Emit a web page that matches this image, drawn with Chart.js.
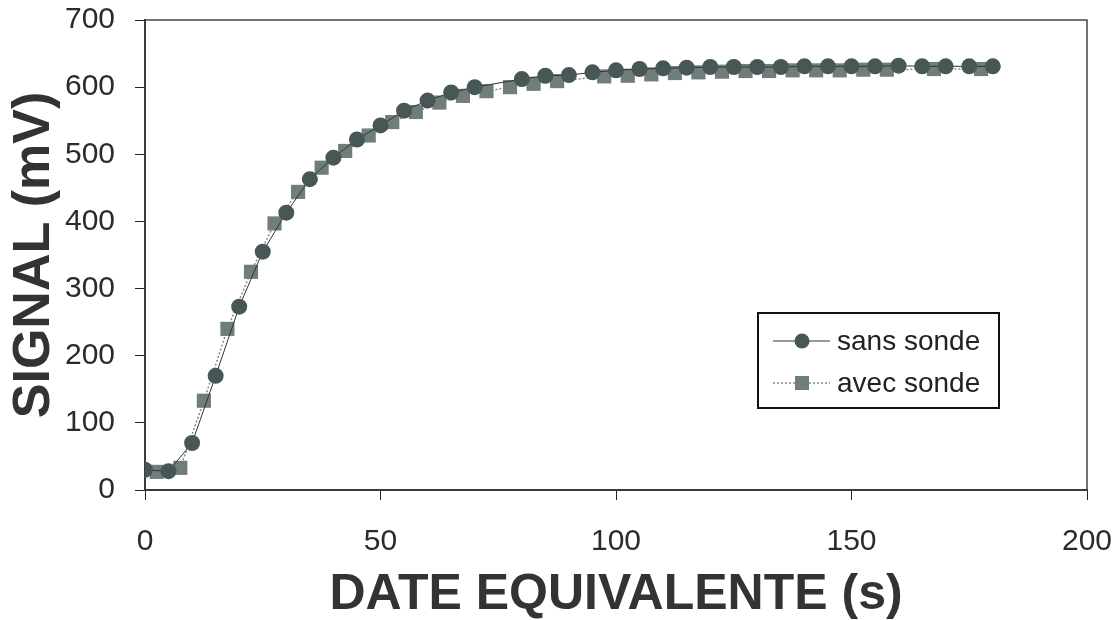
<!DOCTYPE html>
<html>
<head>
<meta charset="utf-8">
<title>Signal vs date equivalente</title>
<script src="https://cdn.jsdelivr.net/npm/chart.js@4.4.1/dist/chart.umd.min.js"></script>
<style>
  html, body { margin: 0; padding: 0; background: #fff; }
  #wrap { width: 1120px; height: 620px; position: relative; }
</style>
</head>
<body>
<div id="wrap"><canvas id="chart" width="1120" height="620"></canvas></div>
<script>
// --- data ---
const sansSondeX = [0, 5, 10, 15, 20, 25, 30, 35, 40, 45, 50, 55, 60, 65, 70,
  80, 85, 90, 95, 100, 105, 110, 115, 120, 125, 130, 135, 140, 145, 150, 155,
  160, 165, 170, 175, 180];
const sansSondeY = [30, 28, 70, 170, 273, 355, 413, 463, 495, 522, 543, 565, 580, 592, 600,
  612, 617, 618, 622, 625, 627, 628, 629, 630, 630, 630, 630, 631, 631, 631, 631,
  632, 631, 631, 631, 631];

const avecSondeX = [2.5, 7.5, 12.5, 17.5, 22.5, 27.5, 32.5, 37.5, 42.5, 47.5, 52.5,
  57.5, 62.5, 67.5, 72.5, 77.5, 82.5, 87.5, 97.5, 102.5, 107.5, 112.5, 117.5,
  122.5, 127.5, 132.5, 137.5, 142.5, 147.5, 152.5, 157.5, 167.5, 177.5];
const avecSondeY = [27, 33, 133, 240, 325, 397, 444, 480, 505, 528, 548,
  563, 577, 587, 594, 600, 605, 609, 616, 617, 619, 621, 622,
  623, 624, 624, 625, 625, 625, 626, 626, 627, 627];

const seriesNames = ['sans sonde', 'avec sonde'];
const xTicks = [0, 50, 100, 150, 200];
const yTicks = [0, 100, 200, 300, 400, 500, 600, 700];
const xTitle = 'DATE EQUIVALENTE (s)';
const yTitle = 'SIGNAL (mV)';

const FONT = '"Liberation Sans", Arial, Helvetica, sans-serif';
const circleColor = '#465755';
const squareColor = '#6f7d7b';

function toPoints(xs, ys) {
  return xs.map((x, i) => ({ x, y: ys[i] }));
}

// frame around the plot area (top & right edges)
const framePlugin = {
  id: 'frame',
  beforeDatasetsDraw(chart) {
    const { ctx, chartArea: a } = chart;
    ctx.save();
    ctx.strokeStyle = '#444';
    ctx.lineWidth = 1.5;
    ctx.strokeRect(a.left, a.top, a.right - a.left, a.bottom - a.top);
    ctx.restore();
  }
};

// boxed legend inside the plot, like the original
const boxLegend = {
  id: 'boxLegend',
  afterDraw(chart) {
    const { ctx } = chart;
    const box = { x: 758, y: 313, w: 241, h: 95 };
    ctx.save();
    ctx.fillStyle = '#fff';
    ctx.fillRect(box.x, box.y, box.w, box.h);
    ctx.strokeStyle = '#111';
    ctx.lineWidth = 2;
    ctx.strokeRect(box.x, box.y, box.w, box.h);

    const rows = [box.y + 28, box.y + 70];
    chart.data.datasets.forEach((ds, i) => {
      const y = rows[i];
      ctx.strokeStyle = ds.borderColor;
      ctx.lineWidth = ds.borderWidth;
      ctx.setLineDash(ds.borderDash || []);
      ctx.beginPath();
      ctx.moveTo(box.x + 15, y);
      ctx.lineTo(box.x + 72, y);
      ctx.stroke();
      ctx.setLineDash([]);
      ctx.fillStyle = ds.pointBackgroundColor;
      const cx = box.x + 44;
      if (ds.pointStyle === 'rect') {
        ctx.fillRect(cx - 7, y - 7, 14, 14);
      } else {
        ctx.beginPath();
        ctx.arc(cx, y, 7.5, 0, Math.PI * 2);
        ctx.fill();
      }
      ctx.fillStyle = '#222';
      ctx.font = '28px ' + FONT;
      ctx.textBaseline = 'middle';
      ctx.textAlign = 'left';
      ctx.fillText(ds.label, box.x + 79, y + 1);
    });
    ctx.restore();
  }
};

const ctx = document.getElementById('chart').getContext('2d');
new Chart(ctx, {
  type: 'scatter',
  data: {
    datasets: [
      {
        label: seriesNames[0],
        data: toPoints(sansSondeX, sansSondeY),
        showLine: true,
        borderColor: '#333',
        borderWidth: 1,
        pointStyle: 'circle',
        pointRadius: 8,
        pointBorderWidth: 0,
        pointBackgroundColor: circleColor,
        pointBorderColor: circleColor
      },
      {
        label: seriesNames[1],
        data: toPoints(avecSondeX, avecSondeY),
        showLine: true,
        borderColor: '#888',
        borderWidth: 1.5,
        borderDash: [2, 2],
        pointStyle: 'rect',
        pointRadius: 10,
        pointBorderWidth: 0,
        pointBackgroundColor: squareColor,
        pointBorderColor: squareColor
      }
    ]
  },
  options: {
    responsive: false,
    animation: false,
    layout: { padding: { top: 20, right: 33, left: 0, bottom: 0 } },
    plugins: {
      legend: { display: false },
      tooltip: { enabled: false }
    },
    scales: {
      x: {
        type: 'linear',
        min: 0,
        max: 200,
        afterBuildTicks: (scale) => { scale.ticks = xTicks.map(v => ({ value: v })); },
        afterFit: (scale) => {
          scale.height = 130;
          scale.paddingLeft = 0;
          scale.paddingRight = 0;
        },
        border: { display: true, color: '#222', width: 2 },
        grid: { drawOnChartArea: false, drawTicks: true, tickLength: 10, color: '#222' },
        ticks: {
          padding: 24,
          color: '#2b2b2b',
          font: { family: FONT, size: 30 }
        },
        title: {
          display: true,
          text: xTitle,
          color: '#333',
          padding: { top: 0, bottom: 0 },
          font: { family: FONT, size: 50, weight: 'bold', lineHeight: 1 }
        }
      },
      y: {
        type: 'linear',
        min: 0,
        max: 700,
        afterBuildTicks: (scale) => { scale.ticks = yTicks.map(v => ({ value: v })); },
        afterFit: (scale) => {
          scale.width = 145;
          scale.paddingTop = 0;
          scale.paddingBottom = 0;
        },
        border: { display: true, color: '#222', width: 2 },
        grid: { drawOnChartArea: false, drawTicks: true, tickLength: 10, color: '#222' },
        ticks: {
          padding: 20,
          color: '#2b2b2b',
          font: { family: FONT, size: 30 }
        },
        title: {
          display: true,
          text: yTitle,
          color: '#333',
          padding: { top: 9, bottom: 0 },
          font: { family: FONT, size: 52, weight: 'bold', lineHeight: 1 }
        }
      }
    }
  },
  plugins: [framePlugin, boxLegend]
});
</script>
</body>
</html>
